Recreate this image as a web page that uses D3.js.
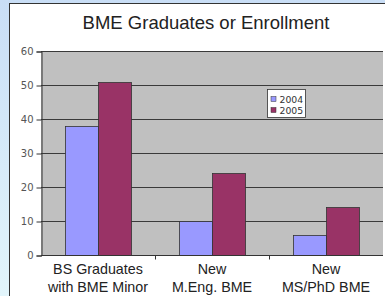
<!DOCTYPE html>
<html>
<head>
<meta charset="utf-8">
<script src="https://cdn.jsdelivr.net/npm/d3@7"></script>
<style>
  body { margin: 0; padding: 0; overflow: hidden; }
  svg { display: block; }
</style>
</head>
<body>
<div id="chart"></div>
<script>
// chart data
var categories = [["BS Graduates", "with BME Minor"], ["New", "M.Eng. BME"], ["New", "MS/PhD BME"]];
var years = ["2004", "2005"];
var values2004 = [38, 10, 6];
var values2005 = [51, 24, 14];
var yTicks = [0, 10, 20, 30, 40, 50, 60];

var width = 385, height = 296;
var colors = ["#9999ff", "#993366"];

var svg = d3.select("#chart").append("svg")
	.attr("width", width)
	.attr("height", height);

// light blue slide background
var grad = svg.append("defs").append("linearGradient")
	.attr("id", "bg")
	.attr("x1", 0).attr("y1", 0).attr("x2", 0).attr("y2", 1);
grad.append("stop").attr("offset", "0%").attr("stop-color", "#c9def6");
grad.append("stop").attr("offset", "100%").attr("stop-color", "#e2f5fb");

svg.append("rect")
	.attr("width", width)
	.attr("height", height)
	.attr("fill", "url(#bg)");

// white panel
svg.append("rect")
	.attr("x", 9.5)
	.attr("y", 3.5)
	.attr("width", width)
	.attr("height", height)
	.attr("fill", "#ffffff")
	.attr("stroke", "#333")
	.attr("stroke-width", 1);

// title
svg.append("text")
	.attr("x", 206)
	.attr("y", 29)
	.attr("text-anchor", "middle")
	.attr("font-family", "Arial, 'Liberation Sans', sans-serif")
	.attr("font-size", 18.5)
	.attr("fill", "#222")
	.text("BME Graduates or Enrollment");

var plot = { left: 41, right: 383, top: 51, bottom: 255 };

var x = d3.scaleBand()
	.domain(d3.range(categories.length))
	.range([plot.left, plot.right]);

var x1 = d3.scaleBand()
	.domain(years)
	.range([0, 66]);

var y = d3.scaleLinear()
	.domain([0, 60])
	.range([plot.bottom, plot.top]);

// plot background
svg.append("rect")
	.attr("x", plot.left)
	.attr("y", plot.top)
	.attr("width", plot.right - plot.left)
	.attr("height", plot.bottom - plot.top)
	.attr("fill", "#c0c0c0");

// gridlines
svg.append("g")
	.selectAll("line")
	.data(yTicks.filter(function(d){ return d > 0; }))
	.enter()
	.append("line")
	.attr("x1", plot.left)
	.attr("x2", plot.right)
	.attr("y1", function(d){ return Math.round(y(d)) + 0.5; })
	.attr("y2", function(d){ return Math.round(y(d)) + 0.5; })
	.attr("stroke", "#3a3a3a")
	.attr("stroke-width", 1);

// bars
var series = [values2004, values2005];
var groups = svg.append("g")
	.selectAll("g")
	.data(categories)
	.enter()
	.append("g")
	.attr("transform", function(d, i){
		return "translate(" + (x(i) + (x.bandwidth() - 66) / 2) + ",0)";
	});

groups.selectAll("rect")
	.data(function(d, i){
		return years.map(function(yr, j){ return { year: yr, value: series[j][i], j: j }; });
	})
	.enter()
	.append("rect")
	.attr("x", function(d){ return x1(d.year) + 0.5; })
	.attr("y", function(d){ return Math.round(y(d.value)) + 0.5; })
	.attr("width", x1.bandwidth())
	.attr("height", function(d){ return plot.bottom - Math.round(y(d.value)); })
	.attr("fill", function(d){ return colors[d.j]; })
	.attr("stroke", "#333")
	.attr("stroke-width", 0.8);

// y axis
var yAxis = d3.axisLeft(y)
	.tickValues(yTicks)
	.tickSize(5)
	.tickPadding(3);

var yg = svg.append("g")
	.attr("transform", "translate(" + (plot.left + 0.5) + ",0.5)")
	.call(yAxis);
yg.selectAll("path, line").attr("stroke", "#333");
yg.selectAll("text")
	.attr("font-family", "Verdana, 'DejaVu Sans', sans-serif")
	.attr("font-size", 10)
	.attr("fill", "#555");

// x axis
var xg = svg.append("g")
	.attr("transform", "translate(0," + (plot.bottom + 0.5) + ")");
xg.append("line")
	.attr("x1", plot.left)
	.attr("x2", plot.right)
	.attr("stroke", "#333");
xg.selectAll(".tk")
	.data(d3.range(1, categories.length))
	.enter()
	.append("line")
	.attr("class", "tk")
	.attr("x1", function(d){ return Math.round(x(d)) + 0.5; })
	.attr("x2", function(d){ return Math.round(x(d)) + 0.5; })
	.attr("y1", 0)
	.attr("y2", 4)
	.attr("stroke", "#333");

var labels = xg.selectAll(".lbl")
	.data(categories)
	.enter()
	.append("text")
	.attr("class", "lbl")
	.attr("text-anchor", "middle")
	.attr("font-family", "Arial, 'Liberation Sans', sans-serif")
	.attr("font-size", 14.3)
	.attr("fill", "#222");
labels.selectAll("tspan")
	.data(function(d, i){ return d.map(function(t){ return { t: t, i: i }; }); })
	.enter()
	.append("tspan")
	.attr("x", function(d){ return x(d.i) + x.bandwidth() / 2; })
	.attr("y", function(d, k){ return 18.5 + k * 17.5; })
	.text(function(d){ return d.t; });

// legend
var legend = svg.append("g")
	.attr("transform", "translate(267.5,89.5)");
legend.append("rect")
	.attr("width", 38)
	.attr("height", 28)
	.attr("fill", "#ffffff")
	.attr("stroke", "#333")
	.attr("stroke-width", 0.8);
var items = legend.selectAll(".item")
	.data(years)
	.enter()
	.append("g")
	.attr("transform", function(d, i){ return "translate(3.5," + (7 + i * 11) + ")"; });
items.append("rect")
	.attr("width", 5)
	.attr("height", 5)
	.attr("fill", function(d, i){ return colors[i]; })
	.attr("stroke", "#333")
	.attr("stroke-width", 0.5);
items.append("text")
	.attr("x", 8.5)
	.attr("y", 6)
	.attr("font-family", "Verdana, 'DejaVu Sans', sans-serif")
	.attr("font-size", 9.3)
	.attr("fill", "#333")
	.text(function(d){ return d; });
</script>
</body>
</html>
